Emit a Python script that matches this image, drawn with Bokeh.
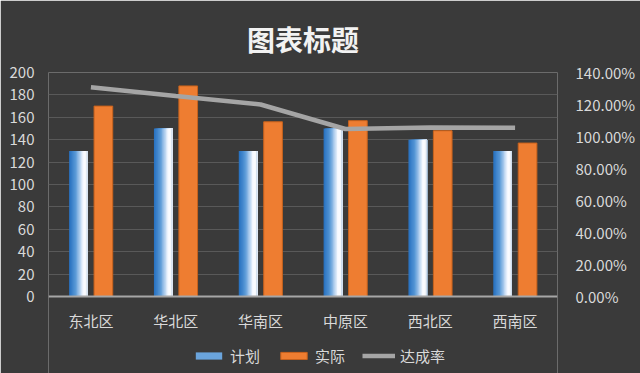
from bokeh.plotting import figure
from bokeh.models import (Range1d, LinearAxis, NumeralTickFormatter, FactorRange,
                          ColumnDataSource, Legend, LegendItem, FixedTicker, Span)
from bokeh.transform import dodge
from bokeh.core.properties import value
from bokeh.embed import file_html
from bokeh.resources import INLINE

categories = ["东北区", "华北区", "华南区", "中原区", "西北区", "西南区"]
plan = [130, 150, 130, 150, 140, 130]
actual = [170, 188, 156, 157, 148, 137]
rate = [1.308, 1.253, 1.20, 1.047, 1.057, 1.054]
left_ticks = [0, 20, 40, 60, 80, 100, 120, 140, 160, 180, 200]
right_ticks = [0, 0.2, 0.4, 0.6, 0.8, 1.0, 1.2, 1.4]
title_text = "图表标题"
series_names = ["计划", "实际", "达成率"]

FONT = "Noto Sans CJK SC"
BG = "#3a3a3a"
TXT = "#d9d9d9"

# frame: value axis 0..200 occupies the upper 224 px; 77 px below hold labels and legend
Y_MAX = 200
R_MAX = 1.4
PX_AXIS = 224
PX_BELOW = 77
y_min = -Y_MAX * PX_BELOW / PX_AXIS
r_min = -R_MAX * PX_BELOW / PX_AXIS

src = ColumnDataSource(dict(cat=categories, plan=plan, actual=actual, rate=rate))

p = figure(frame_width=509, frame_height=PX_AXIS + PX_BELOW, x_range=FactorRange(*categories),
           y_range=Range1d(y_min, Y_MAX), output_backend="svg", toolbar_location=None,
           min_border_left=48, min_border_right=83, min_border_top=72, min_border_bottom=0)
p.extra_y_ranges = {"rate": Range1d(r_min, R_MAX)}
p.background_fill_color = BG
p.border_fill_color = BG
p.outline_line_color = None

p.title.text = title_text
p.title.align = "center"
p.title.text_color = "#f2f2f2"
p.title.text_font = FONT
p.title.text_font_size = "28px"
p.title.text_font_style = "bold"
p.title.offset = 0
p.title.standoff = 27

p.ygrid.grid_line_color = "#595959"
p.ygrid.grid_line_width = 1
p.ygrid.ticker = FixedTicker(ticks=left_ticks)
p.xgrid.grid_line_color = None

# gradient plan bars: stacked overlapping slices, each covering from its left edge to the bar's right edge
bw = 0.22
n = 14
stops = [(0.0, (0x25, 0x6f, 0xbf)), (0.35, (0x5a, 0x9a, 0xd8)), (0.75, (0xf4, 0xf8, 0xff)),
         (0.88, (0xff, 0xff, 0xff)), (1.0, (0xb8, 0xcc, 0xe4))]


def grad(t):
    for (t0, a), (t1, b) in zip(stops[:-1], stops[1:]):
        if t0 <= t <= t1:
            u = (t - t0) / (t1 - t0)
            return "#%02x%02x%02x" % tuple(int(a[k] + (b[k] - a[k]) * u) for k in range(3))
    return "#ffffff"


plan_center = -0.147
slice_renderers = []
for i in range(n):
    left = plan_center - bw / 2 + bw * i / n
    right = plan_center + bw / 2
    r = p.vbar(x=dodge("cat", (left + right) / 2, range=p.x_range), top="plan", bottom=0,
               width=right - left, source=src, fill_color=grad((i + 0.5) / n), line_color=None)
    slice_renderers.append(r)

ract = p.vbar(x=dodge("cat", 0.147, range=p.x_range), top="actual", bottom=0, width=bw, source=src,
              fill_color="#ee7d31", line_color="#c8621c", line_width=1)

rline = p.line(x="cat", y="rate", source=src, y_range_name="rate",
               line_color="#a5a5a5", line_width=4.5)

# category axis: baseline and labels drawn inside the extended frame
p.add_layout(Span(location=0, dimension="width", line_color="#a6a6a6", line_width=2))
p.text(x="cat", y=-24 * Y_MAX / PX_AXIS, text="cat", source=src, text_color=TXT,
       text_font=value(FONT), text_font_size="15px", text_align="center", text_baseline="middle")
p.xaxis.visible = False

# value axes
p.yaxis.ticker = FixedTicker(ticks=left_ticks)
p.yaxis.axis_line_color = None
p.yaxis.major_tick_line_color = None
p.yaxis.minor_tick_line_color = None
p.yaxis.major_label_text_color = TXT
p.yaxis.major_label_text_font = FONT
p.yaxis.major_label_text_font_size = "15px"
p.yaxis.major_label_standoff = 8

ra = LinearAxis(y_range_name="rate", ticker=FixedTicker(ticks=right_ticks),
                formatter=NumeralTickFormatter(format="0.00%"))
ra.axis_line_color = None
ra.major_tick_line_color = None
ra.minor_tick_line_color = None
ra.major_label_text_color = TXT
ra.major_label_text_font = FONT
ra.major_label_text_font_size = "15px"
ra.major_label_standoff = 12
p.add_layout(ra, "right")

legend = Legend(items=[LegendItem(label=series_names[0], renderers=[slice_renderers[5]]),
                       LegendItem(label=series_names[1], renderers=[ract]),
                       LegendItem(label=series_names[2], renderers=[rline])],
                orientation="horizontal", location=(144, 7))
legend.background_fill_alpha = 0
legend.border_line_color = None
legend.label_text_color = TXT
legend.label_text_font = FONT
legend.label_text_font_size = "15px"
legend.glyph_width = 33
legend.glyph_height = 9
legend.spacing = 17
legend.label_standoff = 5
legend.margin = 0
legend.padding = 0
p.add_layout(legend)

open("out.html", "w").write(file_html(p, INLINE))
